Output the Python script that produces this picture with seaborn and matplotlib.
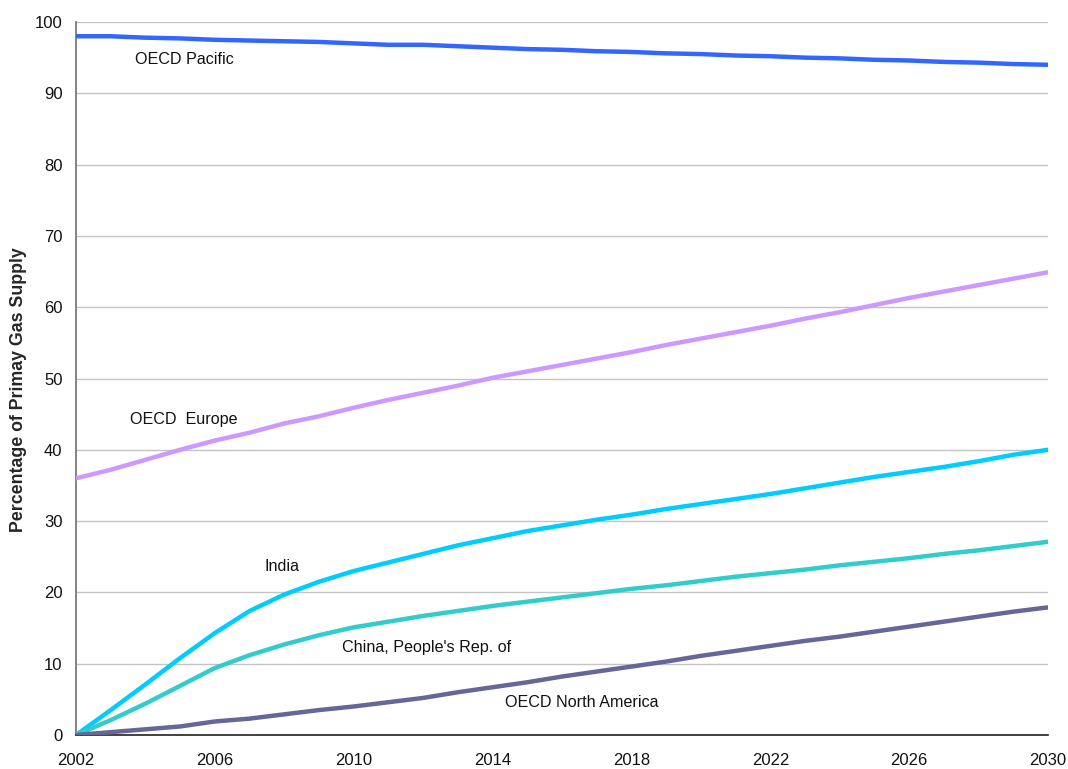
import matplotlib
matplotlib.use("Agg")
import matplotlib.pyplot as plt
import numpy as np
import pandas as pd
import seaborn as sns

years = list(range(2002, 2031))

oecd_pacific = [98.0, 98.0, 97.8, 97.7, 97.5, 97.4, 97.3, 97.2, 97.0, 96.8,
                96.8, 96.6, 96.4, 96.2, 96.1, 95.9, 95.8, 95.6, 95.5, 95.3,
                95.2, 95.0, 94.9, 94.7, 94.6, 94.4, 94.3, 94.1, 94.0]
oecd_europe = [36.0, 37.2, 38.6, 40.0, 41.3, 42.4, 43.7, 44.7, 45.9, 47.0,
               48.0, 49.0, 50.1, 51.0, 51.9, 52.8, 53.7, 54.7, 55.6, 56.5,
               57.4, 58.4, 59.3, 60.3, 61.3, 62.2, 63.1, 64.0, 64.9]
india = [0.0, 3.5, 7.1, 10.8, 14.3, 17.4, 19.7, 21.5, 23.0, 24.2,
         25.4, 26.6, 27.6, 28.6, 29.4, 30.2, 30.9, 31.7, 32.4, 33.1,
         33.8, 34.6, 35.4, 36.2, 36.9, 37.6, 38.4, 39.3, 40.0]
china = [0.0, 2.1, 4.4, 6.9, 9.4, 11.2, 12.7, 14.0, 15.1, 15.9,
         16.7, 17.4, 18.1, 18.7, 19.3, 19.9, 20.5, 21.0, 21.6, 22.2,
         22.7, 23.2, 23.8, 24.3, 24.8, 25.4, 25.9, 26.5, 27.1]
oecd_north_america = [0.0, 0.4, 0.8, 1.2, 1.9, 2.3, 2.9, 3.5, 4.0, 4.6,
                      5.2, 6.0, 6.7, 7.4, 8.2, 8.9, 9.6, 10.3, 11.1, 11.8,
                      12.5, 13.2, 13.8, 14.5, 15.2, 15.9, 16.6, 17.3, 17.9]

series_names = ["OECD Pacific", "OECD  Europe", "India",
                "China, People's Rep. of", "OECD North America"]
series_values = [oecd_pacific, oecd_europe, india, china, oecd_north_america]
series_colors = ["#3366FF", "#CC99FF", "#00CCFF", "#33CCCC", "#666699"]

# inline label anchors (year, value)
label_pos = [(2003.7, 94.7), (2003.55, 44.2), (2007.42, 23.6),
             (2009.66, 12.3), (2014.36, 4.6)]

x_ticks = [2002, 2006, 2010, 2014, 2018, 2022, 2026, 2030]
y_ticks = list(range(0, 101, 10))

df = pd.concat(
    [pd.DataFrame({"Year": years, "Value": v, "Region": n})
     for n, v in zip(series_names, series_values)],
    ignore_index=True,
)

sns.set_style("white")
plt.rcParams["font.family"] = ["Liberation Sans", "DejaVu Sans"]

fig = plt.figure(figsize=(10.68, 7.69), dpi=100)
ax = fig.add_axes([0.0712, 0.0442, 0.9101, 0.9272])

sns.lineplot(data=df, x="Year", y="Value", hue="Region",
             hue_order=series_names, palette=series_colors,
             linewidth=3.2, legend=False, ax=ax, zorder=3)

for name, (lx, ly) in zip(series_names, label_pos):
    ax.text(lx, ly, name, fontsize=11.6, color="#111111",
            ha="left", va="center")

ax.set_xlim(2002, 2030)
ax.set_ylim(0, 100)
ax.set_xticks(x_ticks)
ax.set_xticklabels([str(t) for t in x_ticks])
ax.set_yticks(y_ticks)
ax.yaxis.grid(True, color="#C4C4C4", linewidth=1.0)
ax.xaxis.grid(False)
ax.set_axisbelow(True)

for side in ["top", "right"]:
    ax.spines[side].set_visible(False)
ax.spines["left"].set_color("#7A7A7A")
ax.spines["left"].set_linewidth(1.3)
ax.spines["bottom"].set_color("#222222")
ax.spines["bottom"].set_linewidth(1.2)

ax.tick_params(axis="both", which="major", direction="out", length=4.3,
               width=1, color="#333333", labelsize=12, labelcolor="#111111")
ax.tick_params(axis="x", pad=9)
ax.tick_params(axis="y", pad=5.5)

ax.set_xlabel("")
ax.set_ylabel("Percentage of Primay Gas Supply", fontsize=12.8,
              fontweight="bold")
ax.yaxis.set_label_coords(-0.0504, 0.484)

fig.savefig("out.png", dpi=100)
